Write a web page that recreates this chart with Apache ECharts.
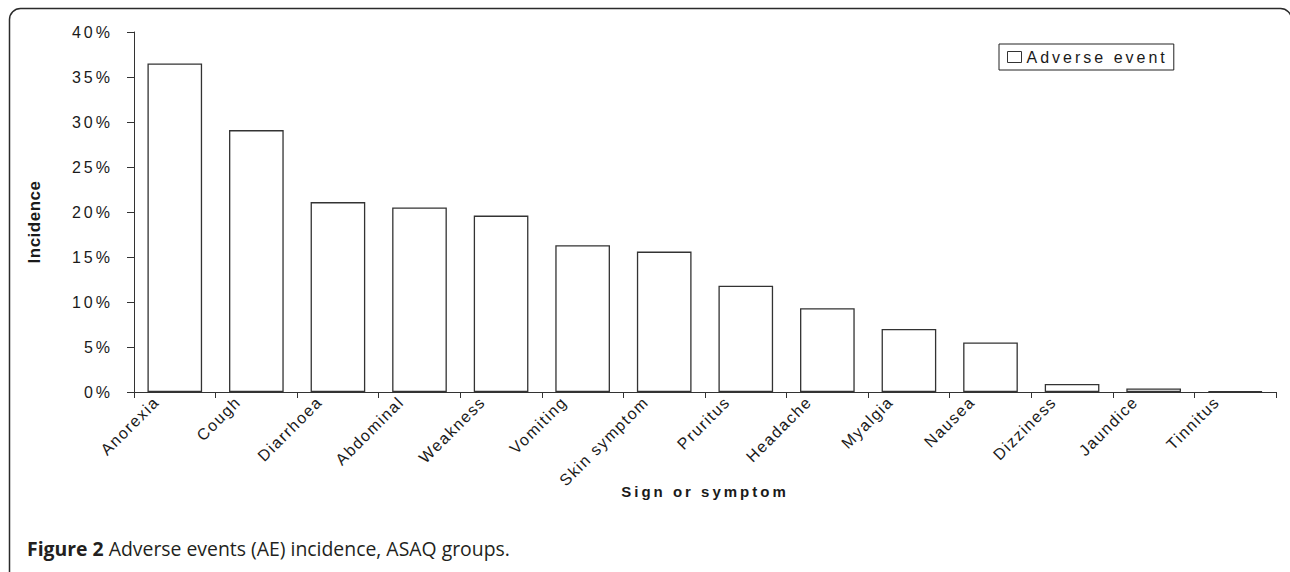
<!DOCTYPE html>
<html>
<head>
<meta charset="utf-8">
<script src="https://cdn.jsdelivr.net/npm/echarts@6/dist/echarts.min.js"></script>
<style>
html, body { margin: 0; padding: 0; background: #ffffff; }
#chart { width: 1290px; height: 572px; }
</style>
</head>
<body>
<div id="chart"></div>
<script>
// ---- data ----
const categories = ['Anorexia', 'Cough', 'Diarrhoea', 'Abdominal', 'Weakness', 'Vomiting',
  'Skin symptom', 'Pruritus', 'Headache', 'Myalgia', 'Nausea', 'Dizziness', 'Jaundice', 'Tinnitus'];
const incidence = [36.5, 29.1, 21.1, 20.5, 19.6, 16.3, 15.6, 11.8, 9.3, 7.0, 5.5, 0.9, 0.4, 0.1];
const yTickValues = [0, 5, 10, 15, 20, 25, 30, 35, 40];
const seriesName = 'Adverse event';
const xAxisTitle = 'Sign or symptom';
const yAxisTitle = 'Incidence';
const captionBold = 'Figure 2';
const captionText = 'Adverse events (AE) incidence, ASAQ groups.';

const ink = '#1a1a1a';
const lineInk = '#333333';
const labelFont = 'Liberation Sans';

const chart = echarts.init(document.getElementById('chart'), null, { renderer: 'svg' });

chart.setOption({
  animation: false,
  backgroundColor: '#ffffff',
  title: {
    text: '{b|' + captionBold + '} ' + captionText,
    left: 27,
    top: 539,
    padding: 0,
    textStyle: {
      fontFamily: 'Open Sans',
      fontSize: 19.4,
      fontWeight: 'normal',
      color: '#231f20',
      rich: {
        b: { fontFamily: 'Open Sans', fontSize: 19.4, fontWeight: 'bold', color: '#231f20' }
      }
    }
  },
  graphic: [{
    type: 'rect',
    silent: true,
    shape: { x: 9.5, y: 8.5, width: 1282, height: 580, r: 11 },
    style: { fill: 'none', stroke: '#2b2b2b', lineWidth: 1.5 }
  }],
  legend: {
    data: [seriesName],
    left: 999,
    top: 44,
    padding: [5, 45, 5, 8],
    borderColor: '#222',
    borderWidth: 1,
    borderRadius: 0,
    backgroundColor: '#fff',
    itemWidth: 14,
    itemHeight: 11,
    itemGap: 0,
    icon: 'rect',
    itemStyle: { color: '#fff', borderColor: '#333', borderWidth: 1 },
    textStyle: { fontFamily: labelFont, fontSize: 16, color: ink }
  },
  grid: {
    left: 134,
    right: 14,
    top: 32,
    bottom: 180,
    containLabel: false,
    outerBoundsMode: 'none'
  },
  xAxis: {
    type: 'category',
    data: categories,
    boundaryGap: true,
    name: xAxisTitle,
    nameLocation: 'middle',
    nameGap: 92,
    nameTextStyle: { fontFamily: labelFont, fontWeight: 'bold', fontSize: 15, color: ink },
    axisLine: { show: true, lineStyle: { color: lineInk, width: 1 } },
    axisTick: { show: true, length: 6, interval: 0, alignWithLabel: false, lineStyle: { color: lineInk, width: 1 } },
    axisLabel: {
      interval: 0,
      rotate: 45,
      margin: -11,
      padding: [0, 26, 0, 0],
      fontFamily: labelFont,
      fontSize: 16,
      color: ink
    },
    splitLine: { show: false }
  },
  yAxis: {
    type: 'value',
    min: yTickValues[0],
    max: yTickValues[yTickValues.length - 1],
    interval: yTickValues[1] - yTickValues[0],
    name: yAxisTitle,
    nameLocation: 'middle',
    nameGap: 91,
    nameTextStyle: { fontFamily: 'Arial', fontWeight: 'bold', fontSize: 17, color: ink, padding: [0, 20, 0, 0] },
    axisLine: { show: true, lineStyle: { color: lineInk, width: 1 } },
    axisTick: { show: true, length: 7, inside: false, lineStyle: { color: lineInk, width: 1 } },
    axisLabel: {
      margin: 21,
      formatter: '{value}%',
      fontFamily: labelFont,
      fontSize: 16,
      color: ink
    },
    splitLine: { show: false }
  },
  series: [{
    name: seriesName,
    type: 'bar',
    data: incidence,
    barCategoryGap: '33%',
    itemStyle: { color: '#ffffff', borderColor: '#333333', borderWidth: 1.3 },
    emphasis: { disabled: true }
  }]
});

// Excel-style tracking on chart labels (not on the caption)
function applySpacing() {
  document.querySelectorAll('#chart svg text').forEach(function (t) {
    const fam = getComputedStyle(t).fontFamily || '';
    const txt = (t.textContent || '').trim();
    let ls = '3px';
    if (fam.indexOf('Open Sans') >= 0) ls = '0px';
    else if (categories.indexOf(txt) >= 0) ls = '1.5px';
    else if (txt === yAxisTitle) ls = '0.5px';
    t.style.letterSpacing = ls;
  });
}
applySpacing();
chart.on('finished', applySpacing);
</script>
</body>
</html>
